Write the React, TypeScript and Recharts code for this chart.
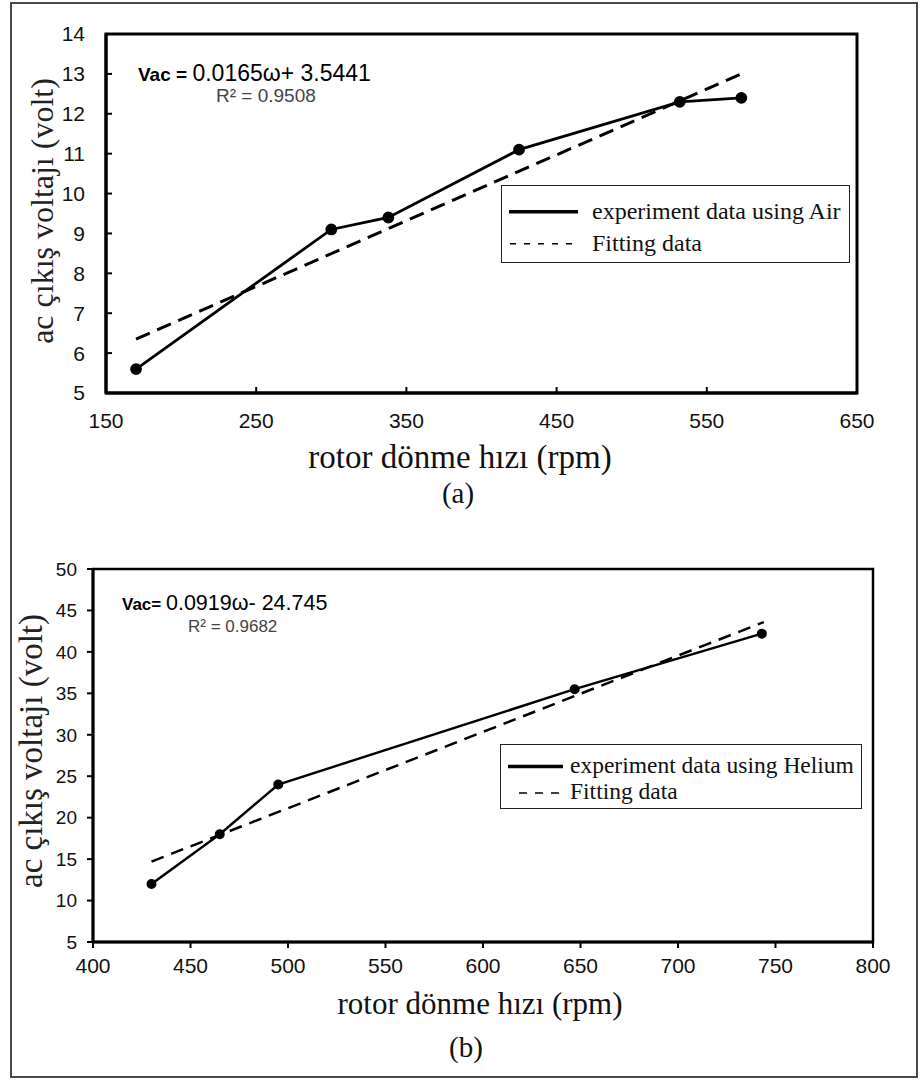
import React from 'react';
import { LineChart, Line, XAxis, YAxis, ReferenceArea } from 'recharts';

// (a) hava ile deney verisi
const airRpm = [170, 300, 338, 425, 532, 573];
const airVolt = [5.6, 9.1, 9.4, 11.1, 12.3, 12.4];
const airFitRpm = [170, 573];
const airFitVolt = [6.35, 13.0];
const airXTicks = [150, 250, 350, 450, 550, 650];
const airYTicks = [5, 6, 7, 8, 9, 10, 11, 12, 13, 14];

// (b) helyum ile deney verisi
const heRpm = [430, 465, 495, 647, 743];
const heVolt = [12.0, 18.0, 24.0, 35.5, 42.2];
const heFitRpm = [430, 744];
const heFitVolt = [14.7, 43.6];
const heXTicks = [400, 450, 500, 550, 600, 650, 700, 750, 800];
const heYTicks = [5, 10, 15, 20, 25, 30, 35, 40, 45, 50];

const toPoints = (xs: number[], ys: number[]) => xs.map((x, i) => ({ rpm: x, v: ys[i] }));

const airData = toPoints(airRpm, airVolt);
const airFit = toPoints(airFitRpm, airFitVolt);
const heData = toPoints(heRpm, heVolt);
const heFit = toPoints(heFitRpm, heFitVolt);

const sans = '"Liberation Sans", Arial, sans-serif';
const serif = '"Liberation Serif", "Times New Roman", serif';

const abs = (left: number, top: number, extra: React.CSSProperties = {}): React.CSSProperties => ({
  position: 'absolute',
  left,
  top,
  whiteSpace: 'nowrap',
  lineHeight: 1,
  ...extra,
});

const LegendBox = ({ left, top, width, height, label, fontSize, textLeft, solidEnd, dashStart, dashEnd, dash }: {
  left: number; top: number; width: number; height: number; label: string; fontSize: number;
  textLeft: number; solidEnd: number; dashStart: number; dashEnd: number; dash: string;
}) => (
  <div style={abs(left, top, { width, height, border: '1.5px solid #222', boxSizing: 'border-box', fontFamily: serif, fontSize, color: '#111' })}>
    <svg width={80} height={height} style={{ position: 'absolute', left: 0, top: 0 }}>
      <line x1={7} x2={solidEnd} y1={height * 0.33} y2={height * 0.33} stroke="#000" strokeWidth={3.5} />
      <line x1={dashStart} x2={dashEnd} y1={height * 0.74} y2={height * 0.74} stroke="#000" strokeWidth={1.5} strokeDasharray={dash} />
    </svg>
    <div style={abs(textLeft, height * 0.33 - fontSize * 0.55)}>{label}</div>
    <div style={abs(textLeft, height * 0.74 - fontSize * 0.55)}>Fitting data</div>
  </div>
);

export default function App() {
  return (
    <div style={{ position: 'absolute', left: 0, top: 0, width: 920, height: 1080, background: '#fff', overflow: 'hidden' }}>
      <div style={abs(10, 2, { width: 908, height: 1076, border: '2px solid #4a4a4a', boxSizing: 'border-box' })} />

      {/* (a) */}
      <div style={abs(0, 0)}>
        <LineChart width={920} height={440} margin={{ top: 34, left: 46, right: 63, bottom: 17 }}>
          <XAxis
            dataKey="rpm"
            type="number"
            domain={[150, 650]}
            ticks={airXTicks}
            height={30}
            interval={0}
            axisLine={{ stroke: '#000', strokeWidth: 3 }}
            tickLine={{ stroke: '#000', strokeWidth: 2 }}
            tickSize={-6}
            tickMargin={26}
            tick={{ fill: '#111', fontSize: 21, fontFamily: sans }}
          />
          <YAxis
            type="number"
            domain={[5, 14]}
            ticks={airYTicks}
            width={60}
            interval={0}
            axisLine={{ stroke: '#000', strokeWidth: 3 }}
            tickLine={{ stroke: '#000', strokeWidth: 2 }}
            tickSize={-6}
            tickMargin={27}
            tick={{ fill: '#111', fontSize: 21, fontFamily: sans }}
          />
          <ReferenceArea x1={150} x2={650} y1={5} y2={14} fill="none" stroke="#000" strokeWidth={3} />
          <Line data={airFit} dataKey="v" stroke="#000" strokeWidth={3} strokeDasharray="15 8" dot={false} isAnimationActive={false} />
          <Line data={airData} dataKey="v" stroke="#000" strokeWidth={2.8} dot={{ r: 4.5, fill: '#000', stroke: '#000' }} isAnimationActive={false} />
        </LineChart>
      </div>
      <div style={abs(138, 62)}>
        <span style={{ fontFamily: sans, fontWeight: 'bold', fontSize: 19 }}>Vac = </span>
        <span style={{ fontFamily: sans, fontSize: 23 }}>0.0165ω+ 3.5441</span>
      </div>
      <div style={abs(216, 86, { fontFamily: sans, fontSize: 19, color: '#444' })}>R² = 0.9508</div>
      <LegendBox left={501} top={185} width={349} height={78} label="experiment data using Air" fontSize={24}
        textLeft={90} solidEnd={76} dashStart={8} dashEnd={70} dash="6 8" />
      <div style={abs(42, 211, { fontFamily: serif, fontSize: 32, color: '#222', transform: 'translate(-50%, -50%) rotate(-90deg)' })}>ac çıkış voltajı (volt)</div>
      <div style={abs(460, 457, { fontFamily: serif, fontSize: 33, color: '#111', transform: 'translate(-50%, -50%)' })}>rotor dönme hızı (rpm)</div>
      <div style={abs(458, 493, { fontFamily: serif, fontSize: 29, color: '#111', transform: 'translate(-50%, -50%)' })}>(a)</div>

      {/* (b) */}
      <div style={abs(0, 540)}>
        <LineChart width={920} height={460} margin={{ top: 29, left: 33, right: 47, bottom: 28 }}>
          <XAxis
            dataKey="rpm"
            type="number"
            domain={[400, 800]}
            ticks={heXTicks}
            height={30}
            interval={0}
            axisLine={{ stroke: '#000', strokeWidth: 3 }}
            tickLine={{ stroke: '#000', strokeWidth: 2 }}
            tickSize={6}
            tickMargin={10}
            tick={{ fill: '#111', fontSize: 21, fontFamily: sans }}
          />
          <YAxis
            type="number"
            domain={[5, 50]}
            ticks={heYTicks}
            width={60}
            interval={0}
            axisLine={{ stroke: '#000', strokeWidth: 3 }}
            tickLine={{ stroke: '#000', strokeWidth: 2 }}
            tickSize={6}
            tickMargin={10}
            tick={{ fill: '#111', fontSize: 19, fontFamily: sans }}
          />
          <ReferenceArea x1={400} x2={800} y1={5} y2={50} fill="none" stroke="#000" strokeWidth={2.5} />
          <Line data={heFit} dataKey="v" stroke="#000" strokeWidth={2.5} strokeDasharray="13 8" dot={false} isAnimationActive={false} />
          <Line data={heData} dataKey="v" stroke="#000" strokeWidth={2.4} dot={{ r: 3.8, fill: '#000', stroke: '#000' }} isAnimationActive={false} />
        </LineChart>
      </div>
      <div style={abs(122, 593)}>
        <span style={{ fontFamily: sans, fontWeight: 'bold', fontSize: 17 }}>Vac= </span>
        <span style={{ fontFamily: sans, fontSize: 21.5 }}>0.0919ω- 24.745</span>
      </div>
      <div style={abs(188, 618, { fontFamily: sans, fontSize: 17, color: '#444' })}>R² = 0.9682</div>
      <LegendBox left={500} top={744} width={362} height={65} label="experiment data using Helium" fontSize={23.5}
        textLeft={69} solidEnd={62} dashStart={18} dashEnd={60} dash="8 8" />
      <div style={abs(31, 751, { fontFamily: serif, fontSize: 33, color: '#222', transform: 'translate(-50%, -50%) rotate(-90deg)' })}>ac çıkış voltajı (volt)</div>
      <div style={abs(480, 1003, { fontFamily: serif, fontSize: 31, color: '#111', transform: 'translate(-50%, -50%)' })}>rotor dönme hızı (rpm)</div>
      <div style={abs(466, 1047, { fontFamily: serif, fontSize: 29, color: '#111', transform: 'translate(-50%, -50%)' })}>(b)</div>
    </div>
  );
}
